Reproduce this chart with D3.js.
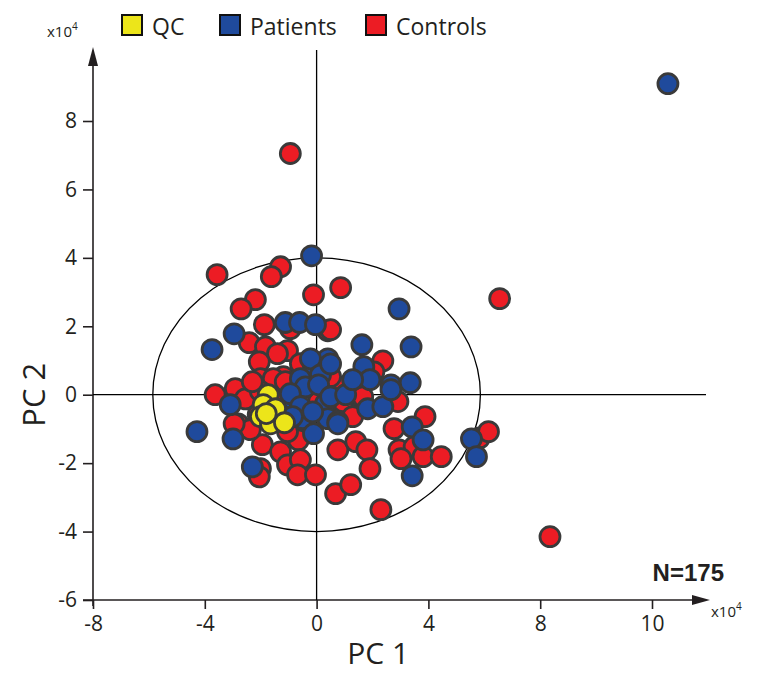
<!DOCTYPE html>
<html><head><meta charset="utf-8">
<script src="https://cdn.jsdelivr.net/npm/d3@7"></script>
<style>body{margin:0;background:#fff}svg{display:block}text{font-family:"Open Sans",sans-serif;fill:#231f20}</style>
</head><body>
<svg id="c" width="757" height="674"></svg>
<script>
const xTicks = [-8, -4, 0, 4, 8, 12];
const xTickLabels = ["-8", "-4", "0", "4", "8", "10"];
const yTicks = [-6, -4, -2, 0, 2, 4, 6, 8];
const seriesNames = ["QC", "Patients", "Controls"];
const seriesColors = ["#ece51a", "#1f4a9c", "#ec1c24"];
const ellipseRadii = [5.86, 4.0];

const controlsX = [-3.56,-1.29,-1.62,-0.11,0.86,-2.19,-2.70,-1.87,-0.94,0.40,-2.41,-1.83,-1.04,-1.40,-2.05,-2.01,-1.19,-1.55,2.37,2.05,0.97,-3.63,-2.91,-2.55,-2.81,-2.09,-0.65,-1.94,-1.29,-1.04,-0.58,-0.68,-2.01,-2.05,-0.04,0.76,0.68,1.22,2.77,3.88,2.95,3.49,3.02,3.81,4.46,1.40,1.80,1.91,2.30,5.83,6.15,2.91,1.40,0.97,-0.94,6.55,8.35,-0.58,-1.04,-1.47,0.07,-2.01,-2.30,-1.12,0.50,0.94,1.29,1.65,-1.04,-2.37,-2.95,0.50];
const controlsY = [3.51,3.74,3.45,2.92,3.13,2.78,2.51,2.05,1.93,1.87,1.52,1.40,1.29,1.20,0.96,0.47,0.53,0.47,0.99,0.67,0.23,0.00,0.18,-0.12,-0.85,-0.58,-1.32,-1.46,-1.67,-2.05,-1.90,-2.34,-2.16,-2.40,-2.34,-1.61,-2.89,-2.63,-0.99,-0.64,-1.61,-1.52,-1.87,-1.81,-1.81,-1.37,-1.61,-2.16,-3.36,-1.26,-1.08,-0.20,0.00,-0.56,7.05,2.81,-4.15,0.91,0.03,-0.15,-0.20,0.10,0.38,0.38,0.53,-0.20,-0.64,-0.06,-1.08,-1.02,-0.85,1.90];

const patientsX = [12.57,-0.18,-1.12,-0.61,-0.04,-2.95,-3.74,-0.11,0.40,-0.22,-0.58,0.14,2.95,1.62,3.38,1.69,1.91,2.66,3.35,0.50,-3.09,-4.28,-2.99,-0.83,0.32,-0.50,0.40,0.76,-0.11,-2.30,3.42,3.81,3.42,5.54,5.72,1.83,2.37,0.76,2.66,-0.40,-0.94,0.07,0.50,-0.58,1.04,1.29,-0.86,-0.14];
const patientsY = [9.09,4.06,2.11,2.11,2.05,1.78,1.32,0.82,1.05,1.05,0.47,0.58,2.51,1.46,1.40,0.82,0.44,0.29,0.35,0.90,-0.29,-1.08,-1.29,-0.15,-0.26,-0.70,-0.70,-0.79,-1.14,-2.11,-0.94,-1.32,-2.37,-1.29,-1.81,-0.41,-0.35,-0.85,0.15,0.23,0.03,0.29,-0.06,-0.35,0.00,0.44,-0.64,-0.50];

const qcX = [-1.73,-1.91,-1.47,-2.01,-1.65,-1.15,-1.80];
const qcY = [0.00,-0.29,-0.41,-0.64,-0.85,-0.82,-0.55];

const svg = d3.select("#c");
const x = d3.scaleLinear().domain([-8, 12]).range([93, 652]);
const y = d3.scaleLinear().domain([-6, 8]).range([600, 121]);

const axisColor = "#231f20";
svg.append("line").attr("x1", 83).attr("x2", 695).attr("y1", y(-6)).attr("y2", y(-6)).attr("stroke", axisColor).attr("stroke-width", 1.6);
svg.append("path").attr("d", `M${710},${y(-6)} L${692},${y(-6)-5} L${692},${y(-6)+5} Z`).attr("fill", axisColor);
svg.append("line").attr("x1", x(-8)).attr("x2", x(-8)).attr("y1", y(-6)+6).attr("y2", 64).attr("stroke", axisColor).attr("stroke-width", 1.6);
svg.append("path").attr("d", `M${x(-8)},47 L${x(-8)-5},66 L${x(-8)+5},66 Z`).attr("fill", axisColor);

svg.append("line").attr("x1", x(0)).attr("x2", x(0)).attr("y1", 50).attr("y2", y(-6)).attr("stroke", "#000").attr("stroke-width", 1.3);
svg.append("line").attr("x1", x(-8)).attr("x2", 706).attr("y1", y(0)).attr("y2", y(0)).attr("stroke", "#000").attr("stroke-width", 1.3);

svg.append("ellipse").attr("cx", x(0)).attr("cy", y(0))
  .attr("rx", x(ellipseRadii[0]) - x(0)).attr("ry", y(0) - y(ellipseRadii[1]))
  .attr("fill", "none").attr("stroke", "#000").attr("stroke-width", 1.3);

const gx = svg.append("g").attr("transform", `translate(0,${y(-6)})`)
  .call(d3.axisBottom(x).tickValues(xTicks).tickFormat((d, i) => xTickLabels[i]).tickSize(9).tickPadding(7));
const gy = svg.append("g").attr("transform", `translate(${x(-8)},0)`)
  .call(d3.axisLeft(y).tickValues(yTicks).tickFormat(d => String(d)).tickSize(10).tickPadding(6));
[gx, gy].forEach(g => {
  g.select(".domain").remove();
  g.selectAll(".tick line").attr("stroke", axisColor).attr("stroke-width", 1.6);
  g.selectAll(".tick text").style("font-size", "21px").attr("fill", "#231f20").style("font-family", '"Open Sans",sans-serif');
});

function drawSeries(xs, ys, color) {
  svg.append("g").selectAll("circle").data(xs).join("circle")
    .attr("cx", d => x(d)).attr("cy", (d, i) => y(ys[i])).attr("r", 10)
    .attr("fill", color).attr("stroke", "#3a3a3a").attr("stroke-width", 2.8);
}
drawSeries(controlsX, controlsY, seriesColors[2]);
drawSeries(patientsX, patientsY, seriesColors[1]);
drawSeries(qcX, qcY, seriesColors[0]);

const legendX = [122, 220, 366];
seriesNames.forEach((n, i) => {
  svg.append("rect").attr("x", legendX[i]).attr("y", 15).attr("width", 20).attr("height", 20)
    .attr("fill", seriesColors[i]).attr("stroke", "#111").attr("stroke-width", 2);
  svg.append("text").attr("x", legendX[i] + 30).attr("y", 35).text(n).style("font-size", "23px");
});

function mult(xp, yp) {
  const t = svg.append("text").attr("x", xp).attr("y", yp).style("font-size", "15px");
  t.append("tspan").text("x10");
  t.append("tspan").text("4").attr("dy", -7).style("font-size", "10px");
}
mult(47, 37);
mult(711, 617);

svg.append("text").attr("x", x(2.2)).attr("y", 664).attr("text-anchor", "middle").style("font-size", "30px").text("PC 1");
svg.append("text").attr("transform", `translate(45,${y(0)}) rotate(-90)`).attr("text-anchor", "middle").style("font-size", "31px").text("PC 2");

svg.append("text").attr("x", 724).attr("y", 581).attr("text-anchor", "end")
  .style("font-family", '"Liberation Sans",Arial,sans-serif').style("font-weight", "bold").style("font-size", "24px").text("N=175");
</script>
</body></html>
